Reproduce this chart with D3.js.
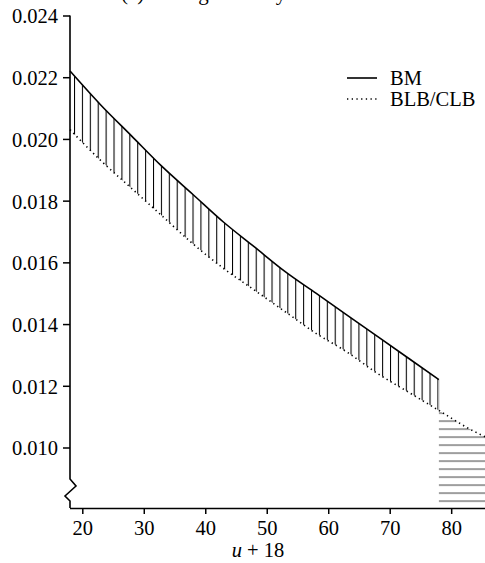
<!DOCTYPE html>
<html>
<head>
<meta charset="utf-8">
<script src="https://cdn.jsdelivr.net/npm/d3@7"></script>
<style>
  html, body { margin: 0; padding: 0; background: #fff; }
  svg { display: block; }
  text { font-family: "Liberation Serif", "Times New Roman", serif; fill: #000; }
</style>
</head>
<body>
<svg id="chart" width="485" height="563"></svg>
<script>
// Ages (u + 18) at which both curves are sampled
const ages = [18, 23, 28, 33, 38, 43, 48, 53, 58, 63, 68, 73, 78];
// BM curve (solid)
const bmValues = [0.0222, 0.0211, 0.0201, 0.0191, 0.0182, 0.0173, 0.0165, 0.0157, 0.0150, 0.0143, 0.0136, 0.0129, 0.0122];
// BLB/CLB curve (dotted), continues past the last BM age
const blbAges = [18, 23, 28, 33, 38, 43, 48, 53, 58, 63, 68, 73, 78, 83, 86];
const blbValues = [0.0203, 0.0193, 0.0184, 0.0175, 0.0166, 0.0158, 0.0151, 0.0144, 0.0137, 0.0131, 0.0124, 0.0118, 0.0112, 0.0106, 0.0103];
// Axis ticks
const xTicks = [20, 30, 40, 50, 60, 70, 80];
const yTicks = [0.010, 0.012, 0.014, 0.016, 0.018, 0.020, 0.022, 0.024];
const seriesNames = ["BM", "BLB/CLB"];
const titleText = "(c) Average annuity";
const xLabel = ["u", " + 18"];

const svg = d3.select("#chart");
const x = d3.scaleLinear().domain([18, 85.5]).range([70, 485]);
const y = d3.scaleLinear().domain([0.010, 0.024]).range([447.5, 15.5]);
const yBottom = 508;

const bm = ages.map((a, i) => ({ a, v: bmValues[i] }));
const blb = blbAges.map((a, i) => ({ a, v: blbValues[i] }));
const lastBM = ages[ages.length - 1];

const defs = svg.append("defs");
// vertical hatching between the two curves
const vp = defs.append("pattern").attr("id", "vhatch")
  .attr("patternUnits", "userSpaceOnUse")
  .attr("x", 74).attr("y", 0).attr("width", 7.9).attr("height", 10);
vp.append("line").attr("x1", 0.5).attr("x2", 0.5).attr("y1", 0).attr("y2", 10)
  .attr("stroke", "#000").attr("stroke-width", 1.1);
// horizontal hatching below the BLB/CLB curve after the last BM age
const hp = defs.append("pattern").attr("id", "hhatch")
  .attr("patternUnits", "userSpaceOnUse")
  .attr("x", 0).attr("y", 420.5).attr("width", 10).attr("height", 8);
hp.append("line").attr("x1", 0).attr("x2", 10).attr("y1", 0.5).attr("y2", 0.5)
  .attr("stroke", "#555").attr("stroke-width", 1.3);

const curve = d3.curveMonotoneX;
const line = d3.line().x(d => x(d.a)).y(d => y(d.v)).curve(curve);

// band between BM and BLB/CLB
const band = d3.area()
  .x(d => x(d.a))
  .y0(d => y(d.lo)).y1(d => y(d.hi)).curve(curve);
const bandData = ages.map((a, i) => ({ a, hi: bmValues[i], lo: blbValues[i] }));
svg.append("path").datum(bandData).attr("d", band).attr("fill", "url(#vhatch)");

// tail region beneath BLB/CLB
const tail = blb.filter(d => d.a >= lastBM);
const tailArea = d3.area().x(d => x(d.a)).y0(yBottom - 4).y1(d => y(d.v)).curve(curve);
svg.append("path").datum(tail).attr("d", tailArea).attr("fill", "url(#hhatch)");

// light edge closing the band at the last BM age
svg.append("line")
  .attr("x1", x(lastBM)).attr("x2", x(lastBM))
  .attr("y1", y(bmValues[bmValues.length - 1])).attr("y2", y(blbValues[ages.length - 1]))
  .attr("stroke", "#bbb").attr("stroke-width", 1);

// curves
svg.append("path").datum(blb).attr("d", line)
  .attr("fill", "none").attr("stroke", "#000").attr("stroke-width", 1.6)
  .attr("stroke-dasharray", "1.3 3.4");
svg.append("path").datum(bm).attr("d", line)
  .attr("fill", "none").attr("stroke", "#000").attr("stroke-width", 1.6);

// y axis with a break at the bottom
const yAxis = d3.axisLeft(y).tickValues(yTicks).tickFormat(d3.format(".3f"))
  .tickSize(7).tickPadding(5);
const gy = svg.append("g").attr("transform", "translate(70,0)").call(yAxis)
  .attr("font-family", "Liberation Serif, serif");
gy.select(".domain").remove();
gy.selectAll(".tick line").attr("stroke", "#000").attr("stroke-width", 1.5);
gy.selectAll(".tick text").attr("font-size", 20.5).attr("dy", "0.36em");
svg.append("path")
  .attr("d", `M70,${y(0.024)} V479 L76,486 L65,496 L70,501 V${yBottom}`)
  .attr("fill", "none").attr("stroke", "#000").attr("stroke-width", 1.6)
  .attr("stroke-linejoin", "miter");

// x axis
const xAxis = d3.axisBottom(x).tickValues(xTicks).tickSize(6).tickPadding(6);
const gx = svg.append("g").attr("transform", `translate(0,${yBottom})`).call(xAxis)
  .attr("font-family", "Liberation Serif, serif");
gx.select(".domain").attr("d", `M70,0.5H485`).attr("stroke", "#000").attr("stroke-width", 1.6);
gx.selectAll(".tick line").attr("stroke", "#000").attr("stroke-width", 1.5);
gx.selectAll(".tick text").attr("font-size", 20.5);

// axis label
const xl = svg.append("text").attr("x", 258).attr("y", 557)
  .attr("text-anchor", "middle").attr("font-size", 20.5);
xl.append("tspan").attr("font-style", "italic").text(xLabel[0]);
xl.append("tspan").text(xLabel[1]);

// title, partly above the top edge of the page
svg.append("text").attr("x", 121).attr("y", -0.5).attr("font-size", 21).text(titleText);

// legend
const lg = svg.append("g");
lg.append("line").attr("x1", 347).attr("x2", 377).attr("y1", 78).attr("y2", 78)
  .attr("stroke", "#000").attr("stroke-width", 1.6);
lg.append("text").attr("x", 390).attr("y", 85).attr("font-size", 20.5).text(seriesNames[0]);
lg.append("line").attr("x1", 347).attr("x2", 377).attr("y1", 99).attr("y2", 99)
  .attr("stroke", "#000").attr("stroke-width", 1.6).attr("stroke-dasharray", "1.3 3.4");
lg.append("text").attr("x", 390).attr("y", 106).attr("font-size", 20.5).text(seriesNames[1]);
</script>
</body>
</html>
